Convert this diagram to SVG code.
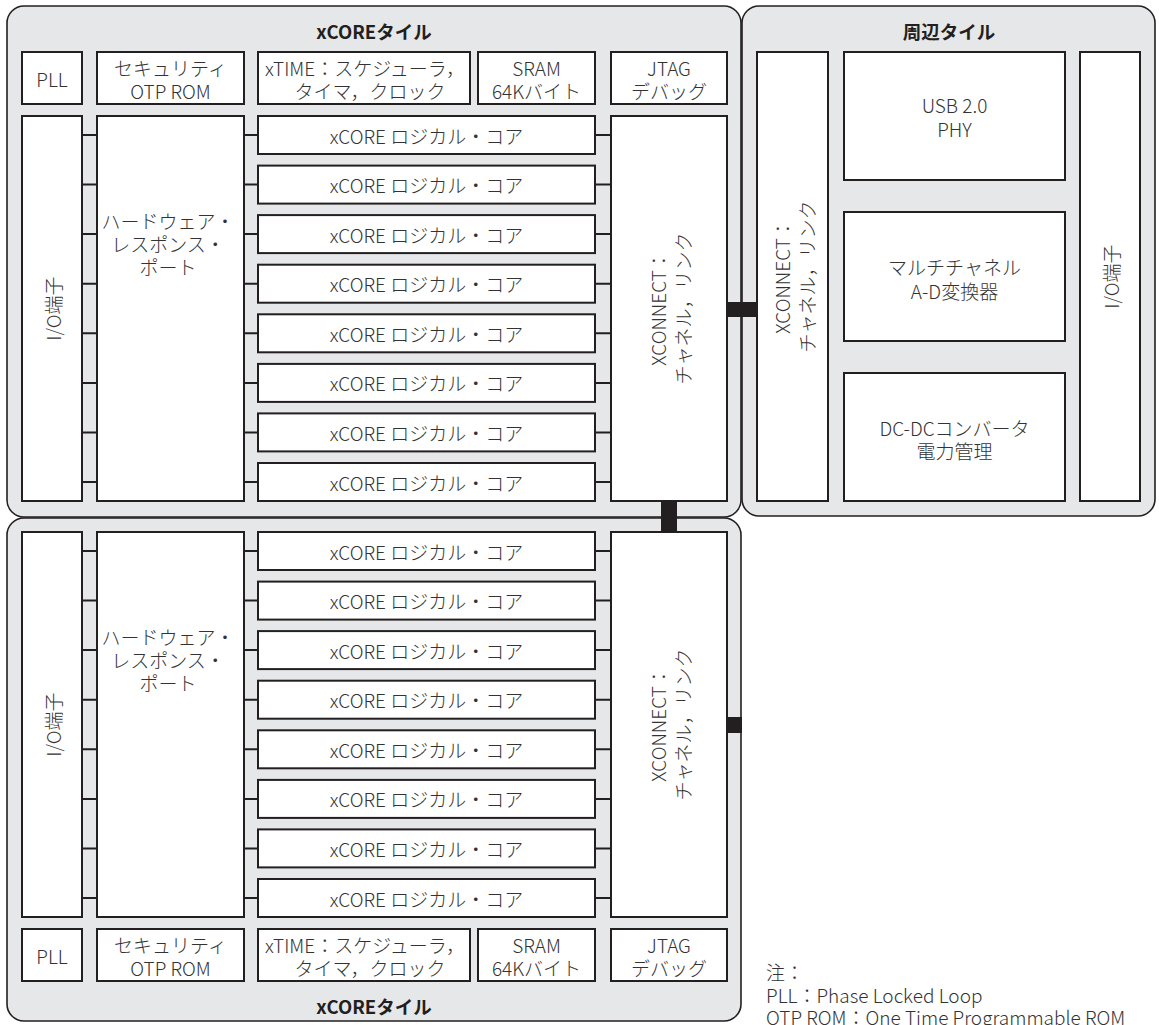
<svg xmlns="http://www.w3.org/2000/svg" width="1159" height="1025" viewBox="0 0 1159 1025">
<style>
.tile{fill:#e6e7e8;stroke:#231f20;stroke-width:1.6}
.box{fill:#ffffff;stroke:#231f20;stroke-width:2}
.lnk{stroke:#231f20;stroke-width:2;fill:none}
.bar{fill:#231f20}
text{font-family:"Noto Sans CJK JP","Noto Sans",sans-serif;font-size:19px;font-weight:300;fill:#333333;text-anchor:middle;dominant-baseline:central}
.ttl{font-weight:700;fill:#231f20;font-size:18.5px}
.note{text-anchor:start}
</style>
<rect width="1159" height="1025" fill="#ffffff"/>
<g id="tile-top"><rect class="tile" x="7" y="6" width="734" height="511" rx="17"/><text class="ttl" x="374" y="31">xCOREタイル</text></g>
<g id="tile-periph"><rect class="tile" x="742" y="6" width="413" height="510" rx="17"/><text class="ttl" x="949" y="31">周辺タイル</text></g>
<g id="tile-bottom"><rect class="tile" x="7" y="518" width="734" height="503" rx="17"/><text class="ttl" x="374" y="1006">xCOREタイル</text></g>

<g id="connectors">
<path class="lnk" d="M82 135H97M82 184.6H97M82 234.1H97M82 283.7H97M82 333.3H97M82 382.9H97M82 432.4H97M82 482H97
M244 135H258M244 184.6H258M244 234.1H258M244 283.7H258M244 333.3H258M244 382.9H258M244 432.4H258M244 482H258
M595 135H611M595 184.6H611M595 234.1H611M595 283.7H611M595 333.3H611M595 382.9H611M595 432.4H611M595 482H611"/>
<path class="lnk" d="M82 551H97M82 600.6H97M82 650.1H97M82 699.7H97M82 749.3H97M82 798.9H97M82 848.4H97M82 898H97
M244 551H258M244 600.6H258M244 650.1H258M244 699.7H258M244 749.3H258M244 798.9H258M244 848.4H258M244 898H258
M595 551H611M595 600.6H611M595 650.1H611M595 699.7H611M595 749.3H611M595 798.9H611M595 848.4H611M595 898H611"/>
<rect class="bar" x="727" y="302" width="30" height="15"/>
<rect class="bar" x="661" y="502" width="16" height="30"/>
<rect class="bar" x="727" y="717" width="15" height="16"/>
</g>

<!-- top tile -->
<g id="t-pll"><rect class="box" x="22" y="52" width="60" height="52"/><text x="52" y="78">PLL</text></g>
<g id="t-sec"><rect class="box" x="97" y="52" width="147" height="52"/><text x="170.5" y="67">セキュリティ<tspan x="170.5" y="90">OTP ROM</tspan></text></g>
<g id="t-xtime"><rect class="box" x="258" y="52" width="212" height="52"/><text x="365" y="67">xTIME：スケジューラ，<tspan x="370" y="90">タイマ，クロック</tspan></text></g>
<g id="t-sram"><rect class="box" x="478" y="52" width="117" height="52"/><text x="536.5" y="67">SRAM<tspan x="536.5" y="90">64Kバイト</tspan></text></g>
<g id="t-jtag"><rect class="box" x="611" y="52" width="116" height="52"/><text x="669" y="67">JTAG<tspan x="669" y="90">デバッグ</tspan></text></g>
<g id="t-io"><rect class="box" x="22" y="116" width="60" height="385"/><text transform="translate(52 308.5) rotate(-90)">I/O端子</text></g>
<g id="t-hrp"><rect class="box" x="97" y="116" width="147" height="385"/><text x="168" y="220">ハードウェア・<tspan x="168" y="243">レスポンス・</tspan><tspan x="168" y="266">ポート</tspan></text></g>
<g id="t-xc"><rect class="box" x="611" y="116" width="116" height="385"/><text transform="translate(669 308.5) rotate(-90)"><tspan x="0" y="-12">XCONNECT：</tspan><tspan x="0" y="13">チャネル，リンク</tspan></text></g>
<g id="t-core1"><rect class="box" x="258" y="116" width="337" height="38"/><text x="426.5" y="135">xCORE ロジカル・コア</text></g>
<g id="t-core2"><rect class="box" x="258" y="165.6" width="337" height="38"/><text x="426.5" y="184.6">xCORE ロジカル・コア</text></g>
<g id="t-core3"><rect class="box" x="258" y="215.1" width="337" height="38"/><text x="426.5" y="234.1">xCORE ロジカル・コア</text></g>
<g id="t-core4"><rect class="box" x="258" y="264.7" width="337" height="38"/><text x="426.5" y="283.7">xCORE ロジカル・コア</text></g>
<g id="t-core5"><rect class="box" x="258" y="314.3" width="337" height="38"/><text x="426.5" y="333.3">xCORE ロジカル・コア</text></g>
<g id="t-core6"><rect class="box" x="258" y="363.9" width="337" height="38"/><text x="426.5" y="382.9">xCORE ロジカル・コア</text></g>
<g id="t-core7"><rect class="box" x="258" y="413.4" width="337" height="38"/><text x="426.5" y="432.4">xCORE ロジカル・コア</text></g>
<g id="t-core8"><rect class="box" x="258" y="463" width="337" height="38"/><text x="426.5" y="482">xCORE ロジカル・コア</text></g>

<!-- peripheral tile -->
<g id="p-xc"><rect class="box" x="757" y="52" width="71" height="449"/><text transform="translate(792.5 276.5) rotate(-90)"><tspan x="0" y="-12">XCONNECT：</tspan><tspan x="0" y="13">チャネル，リンク</tspan></text></g>
<g id="p-usb"><rect class="box" x="844" y="52" width="221" height="128"/><text x="954.5" y="104">USB 2.0<tspan x="954.5" y="128">PHY</tspan></text></g>
<g id="p-adc"><rect class="box" x="844" y="212" width="221" height="129"/><text x="954.5" y="266">マルチチャネル<tspan x="954.5" y="290">A-D変換器</tspan></text></g>
<g id="p-dcdc"><rect class="box" x="844" y="373" width="221" height="128"/><text x="954.5" y="427">DC-DCコンバータ<tspan x="954.5" y="450">電力管理</tspan></text></g>
<g id="p-io"><rect class="box" x="1080" y="52" width="60" height="449"/><text transform="translate(1110 276.5) rotate(-90)">I/O端子</text></g>

<!-- bottom tile -->
<g id="b-io"><rect class="box" x="22" y="532" width="60" height="385"/><text transform="translate(52 724.5) rotate(-90)">I/O端子</text></g>
<g id="b-hrp"><rect class="box" x="97" y="532" width="147" height="385"/><text x="168" y="636">ハードウェア・<tspan x="168" y="659">レスポンス・</tspan><tspan x="168" y="682">ポート</tspan></text></g>
<g id="b-xc"><rect class="box" x="611" y="532" width="116" height="385"/><text transform="translate(669 724.5) rotate(-90)"><tspan x="0" y="-12">XCONNECT：</tspan><tspan x="0" y="13">チャネル，リンク</tspan></text></g>
<g id="b-core1"><rect class="box" x="258" y="532" width="337" height="38"/><text x="426.5" y="551">xCORE ロジカル・コア</text></g>
<g id="b-core2"><rect class="box" x="258" y="581.6" width="337" height="38"/><text x="426.5" y="600.6">xCORE ロジカル・コア</text></g>
<g id="b-core3"><rect class="box" x="258" y="631.1" width="337" height="38"/><text x="426.5" y="650.1">xCORE ロジカル・コア</text></g>
<g id="b-core4"><rect class="box" x="258" y="680.7" width="337" height="38"/><text x="426.5" y="699.7">xCORE ロジカル・コア</text></g>
<g id="b-core5"><rect class="box" x="258" y="730.3" width="337" height="38"/><text x="426.5" y="749.3">xCORE ロジカル・コア</text></g>
<g id="b-core6"><rect class="box" x="258" y="779.9" width="337" height="38"/><text x="426.5" y="798.9">xCORE ロジカル・コア</text></g>
<g id="b-core7"><rect class="box" x="258" y="829.4" width="337" height="38"/><text x="426.5" y="848.4">xCORE ロジカル・コア</text></g>
<g id="b-core8"><rect class="box" x="258" y="879" width="337" height="38"/><text x="426.5" y="898">xCORE ロジカル・コア</text></g>
<g id="b-pll"><rect class="box" x="22" y="929" width="60" height="52"/><text x="52" y="955">PLL</text></g>
<g id="b-sec"><rect class="box" x="97" y="929" width="147" height="52"/><text x="170.5" y="944">セキュリティ<tspan x="170.5" y="967">OTP ROM</tspan></text></g>
<g id="b-xtime"><rect class="box" x="258" y="929" width="212" height="52"/><text x="365" y="944">xTIME：スケジューラ，<tspan x="370" y="967">タイマ，クロック</tspan></text></g>
<g id="b-sram"><rect class="box" x="478" y="929" width="117" height="52"/><text x="536.5" y="944">SRAM<tspan x="536.5" y="967">64Kバイト</tspan></text></g>
<g id="b-jtag"><rect class="box" x="611" y="929" width="116" height="52"/><text x="669" y="944">JTAG<tspan x="669" y="967">デバッグ</tspan></text></g>

<g id="note"><text class="note" x="766" y="971">注：<tspan x="766" y="994">PLL：Phase Locked Loop</tspan><tspan x="766" y="1016">OTP ROM：One Time Programmable ROM</tspan></text></g>
</svg>
